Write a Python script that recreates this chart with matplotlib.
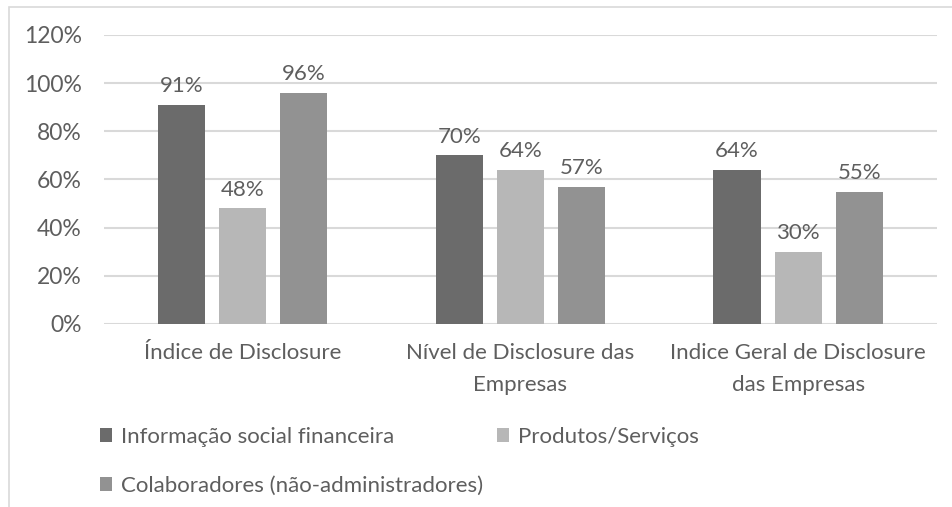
import numpy as np
import matplotlib
matplotlib.use("Agg")
from matplotlib import pyplot as plt
from matplotlib.patches import Rectangle
from matplotlib.ticker import PercentFormatter

# ======= Data =====================================================

categories = [
    "Índice de Disclosure",
    "Nível de Disclosure das\nEmpresas",
    "Indice Geral de Disclosure\ndas Empresas",
]
series_names = [
    "Informação social financeira",
    "Produtos/Serviços",
    "Colaboradores (não-administradores)",
]
info_social = [91, 70, 64]
produtos = [48, 64, 30]
colaboradores = [96, 57, 55]

series_colors = ["#6b6b6b", "#b7b7b7", "#929292"]
TEXT_COLOR = "#5e5e5e"
GRID_COLOR = "#d9d9d9"

# ==================================================================


def main() -> None:
    plt.rcParams["font.family"] = ["Lato", "DejaVu Sans"]

    fig = plt.figure(figsize=(9.52, 5.07), dpi=100)
    ax = fig.add_axes([0.1092, 0.361, 0.875, 0.570])

    # 外枠
    fig.patches.append(
        Rectangle((8.5 / 952, -0.1), 1.2, 1.1 - 6.5 / 507, transform=fig.transFigure,
                  fill=False, edgecolor=GRID_COLOR, linewidth=1.2)
    )

    x = np.arange(len(categories))
    width = 0.17
    step = 0.22
    values = [info_social, produtos, colaboradores]

    for i, (name, vals, color) in enumerate(zip(series_names, values, series_colors)):
        bars = ax.bar(x + (i - 1) * step, vals, width, color=color, label=name, zorder=3)
        for rect, v in zip(bars, vals):
            ax.text(
                rect.get_x() + rect.get_width() / 2,
                v + 3.5,
                f"{v}%",
                ha="center",
                va="bottom",
                fontsize=16,
                color=TEXT_COLOR,
            )

    ax.set_xlim(-0.5, 2.5)
    ax.set_ylim(0, 120)
    ax.set_yticks(np.arange(0, 121, 20))
    ax.yaxis.set_major_formatter(PercentFormatter(decimals=0))
    ax.set_xticks(x)
    ax.set_xticklabels(categories, linespacing=1.75)

    ax.grid(axis="y", color=GRID_COLOR, linewidth=1.5, zorder=0)
    for s in ax.spines.values():
        s.set_visible(False)
    ax.tick_params(axis="both", length=0, colors=TEXT_COLOR)
    ax.tick_params(axis="y", pad=16, labelsize=16.5)
    ax.tick_params(axis="x", pad=14, labelsize=16)

    handles, labels = ax.get_legend_handles_labels()
    order = [0, 2, 1]
    fig.legend(
        [handles[k] for k in order],
        [labels[k] for k in order],
        loc="upper left",
        bbox_to_anchor=(100 / 952, 1 - 427 / 507),
        ncol=2,
        frameon=False,
        fontsize=16,
        labelcolor=TEXT_COLOR,
        handlelength=0.55,
        handleheight=0.55,
        handletextpad=0.4,
        columnspacing=0.6,
        labelspacing=1.3,
        borderaxespad=0,
        borderpad=0,
    )

    fig.savefig("out.png", dpi=100)
    plt.close(fig)


if __name__ == "__main__":
    main()
